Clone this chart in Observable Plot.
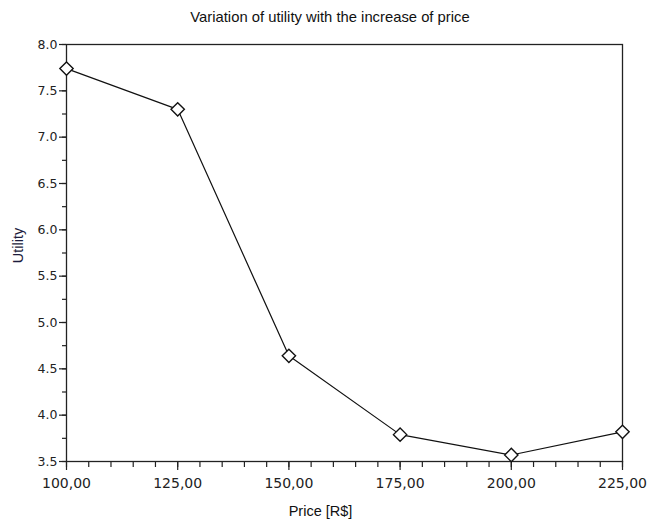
<!DOCTYPE html>
<html>
<head>
<meta charset="utf-8">
<script src="https://cdn.jsdelivr.net/npm/d3@7"></script>
<script src="https://cdn.jsdelivr.net/npm/@observablehq/plot@0.6"></script>
<style>
  body { margin: 0; background: #fff; }
  #wrap { width: 660px; position: relative; }
  #title { height: 30px; font: 14.8px "Liberation Sans", Arial, sans-serif; line-height: 34px; text-align: center; color: #111; }
  svg { display: block; }
</style>
</head>
<body>
<div id="wrap">
  <div id="title">Variation of utility with the increase of price</div>
  <div id="chart"></div>
</div>
<script>
const prices = [100, 125, 150, 175, 200, 225];
const utility = [7.74, 7.30, 4.64, 3.79, 3.57, 3.82];
const xMajorTicks = [100, 125, 150, 175, 200, 225];
const xMinorTicks = d3.range(100, 226, 5);
const yMajorTicks = [3.5, 4.0, 4.5, 5.0, 5.5, 6.0, 6.5, 7.0, 7.5, 8.0];
const yMinorTicks = d3.range(3.5, 8.01, 0.25);

const data = prices.map((p, i) => ({price: p, utility: utility[i]}));

const chart = Plot.plot({
  width: 660,
  height: 492,
  marginTop: 14,
  marginBottom: 61,
  marginLeft: 66,
  marginRight: 38,
  style: {fontFamily: "DejaVu Sans, sans-serif", fontSize: "12px", color: "#222", background: "#fff"},
  x: {domain: [100, 225]},
  y: {domain: [3.5, 8.0]},
  marks: [
    Plot.axisX(xMinorTicks, {tickSize: 6, text: null, strokeWidth: 1.2, label: null}),
    Plot.axisX(xMajorTicks, {tickSize: 9, tickPadding: 8, strokeWidth: 1.2, fontSize: 14,
      tickFormat: d => d.toFixed(2).replace(".", ","), label: null}),
    Plot.axisY(yMinorTicks, {tickSize: 4, text: null, strokeWidth: 1.2, label: null}),
    Plot.axisY(yMajorTicks, {tickSize: 7, tickPadding: 2, strokeWidth: 1.2, fontSize: 12.5,
      tickFormat: d => d.toFixed(1), label: null}),
    Plot.frame({stroke: "#222", strokeWidth: 1.3}),
    Plot.line(data, {x: "price", y: "utility", stroke: "#111", strokeWidth: 1.2}),
    Plot.dot(data, {x: "price", y: "utility", symbol: "diamond2", r: 6, stroke: "#111", strokeWidth: 1.4, fill: "#fff"}),
    Plot.text(["Price [R$]"], {frameAnchor: "bottom", textAnchor: "middle", dx: -24, dy: 54, fontFamily: "Liberation Sans, Arial, sans-serif", fontSize: 14.5, fill: "#111"}),
    Plot.text(["Utility"], {frameAnchor: "left", textAnchor: "middle", dx: -48, dy: -7.5, rotate: -90, fontFamily: "Liberation Sans, Arial, sans-serif", fontSize: 14.5, fill: "#1c1c3c"})
  ]
});
document.getElementById("chart").appendChild(chart);
</script>
</body>
</html>
